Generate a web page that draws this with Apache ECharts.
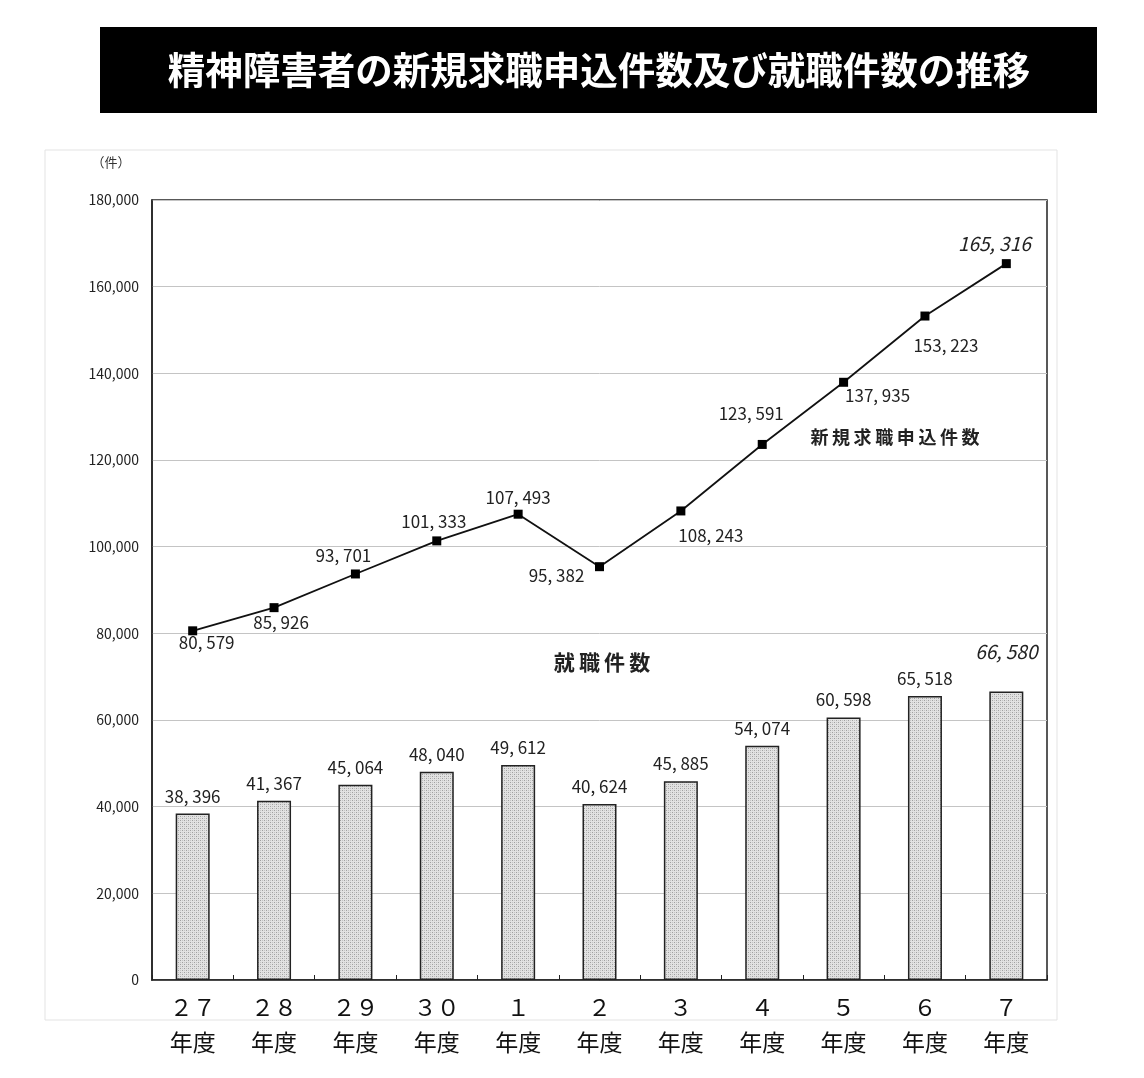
<!DOCTYPE html>
<html lang="ja">
<head>
    <meta charset="UTF-8">
    <title>精神障害者の新規求職申込件数及び就職件数の推移</title>
    <script src="https://cdn.jsdelivr.net/npm/echarts/dist/echarts.min.js"></script>
    <style>
        html, body { margin: 0; padding: 0; background: #fff; }
        #chart { width: 1144px; height: 1078px; }
    </style>
</head>
<body>
<div id="chart"></div>
<script>
    // data
    var years = ['２７', '２８', '２９', '３０', '１', '２', '３', '４', '５', '６', '７'];
    var applications = [80579, 85926, 93701, 101333, 107493, 95382, 108243, 123591, 137935, 153223, 165316];
    var placements = [38396, 41367, 45064, 48040, 49612, 40624, 45885, 54074, 60598, 65518, 66580];

    // label offsets for the line points (px), just styling
    var lineLabelOffsets = [[14, 12], [7, 15], [-12, -18], [-3, -19], [0, -17], [-43, 9],
        [30, 25], [-11, -31], [34, 13], [21, 30], [-12, -20]];

    var jp = '"Noto Sans CJK JP", sans-serif';

    function fmt(v) {
        return String(v).replace(/\B(?=(\d{3})+(?!\d))/g, ', ');
    }
    function spaced(s) {
        return s.split('').join('\u2009');
    }

    // dotted grey fill for the bars
    var pat = document.createElement('canvas');
    pat.width = 4; pat.height = 4;
    var pctx = pat.getContext('2d');
    pctx.fillStyle = '#e2e2e2';
    pctx.fillRect(0, 0, 4, 4);
    pctx.fillStyle = '#a0a0a0';
    pctx.fillRect(0, 0, 1, 1);
    pctx.fillRect(2, 2, 1, 1);
    pctx.fillStyle = '#c4c4c4';
    pctx.fillRect(2, 0, 1, 1);
    pctx.fillRect(0, 2, 1, 1);

    var chart = echarts.init(document.getElementById('chart'));

    chart.setOption({
        animation: false,
        backgroundColor: '#fff',
        graphic: [
            { type: 'rect', shape: { x: 100, y: 27, width: 997, height: 86 }, style: { fill: '#000' } },
            { type: 'text', x: 599, y: 70, style: { text: '精神障害者の新規求職申込件数及び就職件数の推移', fill: '#fff',
                font: 'bold 37.5px ' + jp, textAlign: 'center', textVerticalAlign: 'middle' } },
            { type: 'rect', shape: { x: 45, y: 150, width: 1012, height: 870 }, style: { fill: 'none', stroke: '#e3e3e3', lineWidth: 1 }, z: -1 },
            { type: 'text', x: 111, y: 162, style: { text: '（件）', fill: '#333', font: '13px ' + jp, textAlign: 'center', textVerticalAlign: 'middle' } },
            { type: 'text', x: 895, y: 437, style: { text: spaced('新規求職申込件数'), fill: '#222', font: 'bold 18px ' + jp, textAlign: 'center', textVerticalAlign: 'middle' } },
            { type: 'text', x: 602, y: 662, style: { text: spaced('就職件数'), fill: '#222', font: 'bold 21px ' + jp, textAlign: 'center', textVerticalAlign: 'middle' } }
        ],
        grid: {
            left: 152, right: 97, top: 200, bottom: 98,
            show: true, borderColor: '#222', borderWidth: 1.5, backgroundColor: '#fff'
        },
        xAxis: {
            type: 'category',
            data: years,
            boundaryGap: true,
            axisLine: { lineStyle: { color: '#222', width: 1.5 } },
            axisTick: { show: true, inside: true, length: 5, lineStyle: { color: '#222' } },
            axisLabel: {
                margin: 10,
                formatter: function (v) { return v + '\n年度'; },
                fontFamily: jp, fontSize: 23, lineHeight: 35, color: '#111'
            },
            splitLine: { show: false }
        },
        yAxis: {
            type: 'value',
            min: 0, max: 180000, interval: 20000,
            axisLine: { show: true, lineStyle: { color: '#222', width: 1.5 } },
            axisTick: { show: false },
            axisLabel: {
                margin: 13,
                fontFamily: jp, fontSize: 14, color: '#222',
                formatter: function (v) { return String(v).replace(/\B(?=(\d{3})+(?!\d))/g, ','); }
            },
            splitLine: { lineStyle: { color: '#c4c4c4', width: 1 } }
        },
        series: [
            {
                name: '就職件数',
                type: 'bar',
                data: placements.map(function (v, i) {
                    var last = i === placements.length - 1;
                    return {
                        value: v,
                        label: last ? { fontStyle: 'italic', fontSize: 19, offset: [0, -21] } : undefined
                    };
                }),
                barWidth: 34,
                itemStyle: { color: { image: pat, repeat: 'repeat' }, borderColor: '#222', borderWidth: 1.5 },
                label: {
                    show: true, position: 'top', distance: 9,
                    fontFamily: jp, fontSize: 17, color: '#222',
                    formatter: function (p) { return fmt(p.value); }
                },
                z: 2
            },
            {
                name: '新規求職申込件数',
                type: 'line',
                data: applications.map(function (v, i) {
                    var last = i === applications.length - 1;
                    return {
                        value: v,
                        label: {
                            offset: lineLabelOffsets[i],
                            fontStyle: last ? 'italic' : 'normal',
                            fontSize: last ? 19 : 17
                        }
                    };
                }),
                symbol: 'rect',
                symbolSize: 9,
                lineStyle: { color: '#111', width: 1.8 },
                itemStyle: { color: '#000' },
                label: {
                    show: true, position: 'inside',
                    fontFamily: jp, fontSize: 17, color: '#222',
                    formatter: function (p) { return fmt(p.value); }
                },
                z: 3
            }
        ]
    });
</script>
</body>
</html>
